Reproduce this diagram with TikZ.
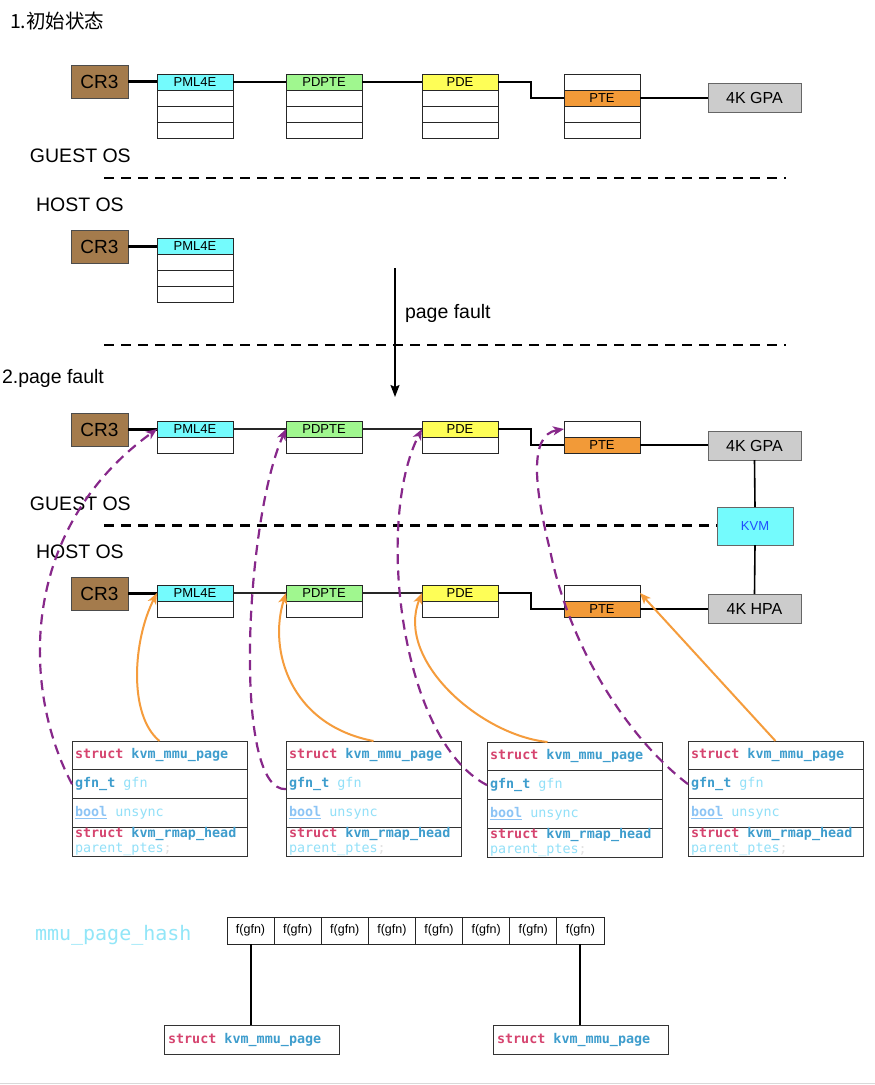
\documentclass[tikz,border=0pt]{standalone}
\usepackage{fontspec}
\setmainfont{Liberation Sans}
\newfontfamily\cjkf{Noto Sans CJK SC}
\newfontfamily\monof{DejaVu Sans Mono}
\usetikzlibrary{arrows.meta}
\definecolor{crbrown}{HTML}{A47B4C}
\definecolor{cyanc}{HTML}{74FBFD}
\definecolor{greenc}{HTML}{A0F78F}
\definecolor{yellowc}{HTML}{FEFE57}
\definecolor{orangec}{HTML}{F29A38}
\definecolor{grayc}{HTML}{CCCCCC}
\definecolor{purplec}{HTML}{87288A}
\definecolor{arrorange}{HTML}{F59C3C}
\definecolor{kwc}{HTML}{D6446F}
\definecolor{typc}{HTML}{3E9DCD}
\definecolor{varc}{HTML}{92E0F8}
\definecolor{boolc}{HTML}{8CC4F5}
\definecolor{semic}{HTML}{E2E2E2}
\definecolor{kvmtext}{HTML}{1F4FFF}
\definecolor{hashc}{HTML}{92E6F8}
\newcommand{\kwd}[1]{\textcolor{kwc}{\bfseries #1}}
\newcommand{\typ}[1]{\textcolor{typc}{\bfseries #1}}
\newcommand{\vname}[1]{\textcolor{varc}{#1}}
\newcommand{\msp}{\hspace*{0.6021em}}
\tikzset{
  x=1pt, y=-1pt,
  every node/.append style={outer sep=0pt},
  cell/.style={draw=black!85, line width=0.8pt, minimum width=76pt, minimum height=16pt,
    inner sep=0pt, anchor=north west, font=\fontsize{13}{13}\selectfont},
  crbox/.style={draw=black!70, line width=0.8pt, fill=crbrown, minimum width=57pt,
    minimum height=33pt, inner sep=0pt, anchor=north west, font=\fontsize{19}{19}\selectfont},
  pabox/.style={draw=black!60, line width=1pt, fill=grayc, minimum width=93pt,
    minimum height=29pt, inner sep=0pt, anchor=north west, font=\fontsize{16}{16}\selectfont},
  kvmbox/.style={draw=black!60, line width=1pt, fill=cyanc, minimum width=76pt,
    minimum height=38pt, inner sep=0pt, anchor=north west, text=kvmtext,
    font=\fontsize{13}{13}\selectfont},
  link/.style={black, line width=1.6pt},
  crlink/.style={black, line width=2.4pt},
  thinlink/.style={black!85, line width=1.2pt},
  sepline/.style={black, line width=2.5pt, dash pattern=on 10pt off 7pt},
  guestarrow/.style={purplec, line width=2.2pt, dash pattern=on 10pt off 6.5pt,
    -{Stealth[length=11pt,width=9pt,inset=3pt]}},
  hostarrow/.style={arrorange, line width=2pt, -{Stealth[length=11pt,width=9pt,inset=3pt]}},
  srow/.style={draw=black!80, line width=0.9pt, minimum width=175pt, text width=169pt,
    minimum height=28.75pt, inner xsep=3pt, inner ysep=0pt, align=left, anchor=north west,
    font=\monof\fontsize{13.4}{16}\selectfont},
  bbox/.style={draw=black!80, line width=0.9pt, minimum width=175pt, text width=167pt,
    minimum height=29pt, inner xsep=4pt, inner ysep=0pt, align=left, anchor=north west,
    font=\monof\fontsize{13.4}{16}\selectfont},
  hcell/.style={draw=black!85, line width=0.9pt, minimum width=47.125pt, minimum height=27pt,
    inner sep=0pt, anchor=north west, font=\fontsize{12.5}{12.5}\selectfont},
  lbl/.style={anchor=base west, inner sep=0pt, font=\fontsize{19.5}{19.5}\selectfont},
  pfarrow/.style={black, line width=1.6pt, -{Stealth[length=12pt,width=9pt,inset=2pt]}},
}
\begin{document}
\begin{tikzpicture}
\useasboundingbox (0,0) rectangle (875,1085);
\fill[white] (0,0) rectangle (875,1085);

% ---------- labels ----------
\node[lbl, font=\cjkf\fontsize{19.5}{19.5}\selectfont] (t1) at (10,28) {1.初始状态};
\node[lbl] (go1) at (30,162) {GUEST OS};
\node[lbl] (ho1) at (36,211) {HOST OS};
\node[lbl] (pf) at (405,318) {page fault};
\node[lbl] (t2) at (2,383) {2.page fault};
\node[lbl] (go2) at (30,510) {GUEST OS};
\node[lbl] (ho2) at (36,558) {HOST OS};

% ---------- section 1 guest ----------
\node[crbox] (cr1) at (71,65) {CR3};
\node[cell, fill=cyanc] (ga1) at (157,74) {PML4E};
\node[cell] (ga2) at (ga1.south west) {};
\node[cell] (ga3) at (ga2.south west) {};
\node[cell] (ga4) at (ga3.south west) {};
\node[cell, fill=greenc] (gb1) at (286,74) {PDPTE};
\node[cell] (gb2) at (gb1.south west) {};
\node[cell] (gb3) at (gb2.south west) {};
\node[cell] (gb4) at (gb3.south west) {};
\node[cell, fill=yellowc] (gc1) at (422,74) {PDE};
\node[cell] (gc2) at (gc1.south west) {};
\node[cell] (gc3) at (gc2.south west) {};
\node[cell] (gc4) at (gc3.south west) {};
\node[cell] (gd1) at (564,74) {};
\node[cell, fill=orangec] (gd2) at (gd1.south west) {PTE};
\node[cell] (gd3) at (gd2.south west) {};
\node[cell] (gd4) at (gd3.south west) {};
\node[pabox] (gpa1) at (708,83) {4K GPA};
\draw[crlink] (cr1.east) -- (cr1.east -| ga1.west);
\draw[link] (ga1.east) -- (gb1.west);
\draw[link] (gb1.east) -- (gc1.west);
\draw[link] (gc1.east) -- ++(33,0) |- (gd2.west);
\draw[link] (gd2.east) -- (gd2.east -| gpa1.west);

% separators section 1
\coordinate (s1a) at (104,178);
\coordinate (s1b) at (786,178);
\draw[sepline] (s1a) -- (s1b);

% ---------- section 1 host ----------
\node[crbox] (cr2) at (71,230) {CR3};
\node[cell, fill=cyanc] (ha1) at (157,238) {PML4E};
\node[cell] (ha2) at (ha1.south west) {};
\node[cell] (ha3) at (ha2.south west) {};
\node[cell] (ha4) at (ha3.south west) {};
\draw[crlink] (cr2.east) -- (cr2.east -| ha1.west);

\coordinate (s2a) at (104,345);
\coordinate (s2b) at (786,345);
\draw[sepline] (s2a) -- (s2b);

\coordinate (pfs) at (395,268);
\coordinate (pfe) at (395,397);
\draw[pfarrow] (pfs) -- (pfe);

% ---------- section 2 guest ----------
\node[crbox] (cr3) at (71,413) {CR3};
\node[cell, fill=cyanc] (Ga1) at (157,421) {PML4E};
\node[cell] (Ga2) at (Ga1.south west) {};
\node[cell, fill=greenc] (Gb1) at (286,421) {PDPTE};
\node[cell] (Gb2) at (Gb1.south west) {};
\node[cell, fill=yellowc] (Gc1) at (422,421) {PDE};
\node[cell] (Gc2) at (Gc1.south west) {};
\node[cell] (Gd1) at (564,421) {};
\node[cell, fill=orangec] (Gd2) at (Gd1.south west) {PTE};
\node[pabox] (gpa2) at (708,431) {4K GPA};
\draw[crlink] (cr3.east) -- (cr3.east -| Ga1.west);
\draw[thinlink] (Ga1.east) -- (Gb1.west);
\draw[thinlink] (Gb1.east) -- (Gc1.west);
\draw[link] (Gc1.east) -- ++(33,0) |- (Gd2.west);
\draw[link] (Gd2.east) -- (Gd2.east -| gpa2.west);

\node[kvmbox] (kvm) at (717,507) {KVM};
\coordinate (s3a) at (104,525.5);
\draw[sepline] (s3a) -- (s3a -| kvm.west);

% ---------- section 2 host ----------
\node[crbox] (cr4) at (71,577) {CR3};
\node[cell, fill=cyanc] (Ha1) at (157,585) {PML4E};
\node[cell] (Ha2) at (Ha1.south west) {};
\node[cell, fill=greenc] (Hb1) at (286,585) {PDPTE};
\node[cell] (Hb2) at (Hb1.south west) {};
\node[cell, fill=yellowc] (Hc1) at (422,585) {PDE};
\node[cell] (Hc2) at (Hc1.south west) {};
\node[cell] (Hd1) at (564,585) {};
\node[cell, fill=orangec] (Hd2) at (Hd1.south west) {PTE};
\node[pabox] (hpa) at (708,594) {4K HPA};
\draw[crlink] (cr4.east) -- (cr4.east -| Ha1.west);
\draw[thinlink] (Ha1.east) -- (Hb1.west);
\draw[thinlink] (Hb1.east) -- (Hc1.west);
\draw[link] (Hc1.east) -- ++(33,0) |- (Hd2.west);
\draw[link] (Hd2.east) -- (Hd2.east -| hpa.west);

\draw[link] (gpa2.south) -- (kvm.north);
\draw[link] (kvm.south) -- (hpa.north);

% ---------- struct boxes ----------
\foreach \nm/\xx/\yy in {sA/72/741, sB/286/741, sC/487/742, sD/688/741}{
  \node[srow] (\nm1) at (\xx,\yy) {\kwd{struct}\msp\typ{kvm\_mmu\_page}};
  \node[srow] (\nm2) at (\nm1.south west) {\typ{gfn\_t}\msp\vname{gfn}};
  \node[srow] (\nm3) at (\nm2.south west) {\textcolor{boolc}{\bfseries\underline{bool}}\msp\vname{unsync}};
  \node[srow] (\nm4) at (\nm3.south west) {\kwd{struct}\msp\typ{kvm\_rmap\_head}\\[-1pt]\vname{parent\_ptes}\textcolor{semic}{;}};
}

% ---------- guest (purple) arrows ----------
\draw[guestarrow] (sA2.west) .. controls (22,690) and (18,530) .. (Ga1.west);
\draw[guestarrow] ([yshift=-5pt]sB2.west) .. controls (232,792) and (245,520) .. (Gb1.west);
\draw[guestarrow] (sC2.west) .. controls (400,740) and (375,520) .. (Gc1.west);
\draw[guestarrow] (sD2.west) .. controls (630,740) and (570,650) .. (550,550)
   .. controls (535,490) and (528,435) .. (Gd1.west);

% ---------- host (orange) arrows ----------
\draw[hostarrow] (sA1.north) .. controls (128,715) and (133,640) .. (Ha1.west);
\draw[hostarrow] (sB1.north) .. controls (290,725) and (268,650) .. (Hb1.west);
\draw[hostarrow] ([xshift=-27pt]sC1.north) .. controls (480,735) and (395,660) .. (Hc1.west);
\draw[hostarrow] (sD1.north) -- (Hd1.east);

% ---------- hash ----------
\node[anchor=base west, inner sep=0pt, text=hashc, font=\monof\fontsize{20}{20}\selectfont] (hashlbl) at (35,940) {mmu\_page\_hash};
\node[hcell] (h1) at (227,917) {f(gfn)};
\node[hcell] (h2) at (h1.north east) {f(gfn)};
\node[hcell] (h3) at (h2.north east) {f(gfn)};
\node[hcell] (h4) at (h3.north east) {f(gfn)};
\node[hcell] (h5) at (h4.north east) {f(gfn)};
\node[hcell] (h6) at (h5.north east) {f(gfn)};
\node[hcell] (h7) at (h6.north east) {f(gfn)};
\node[hcell] (h8) at (h7.north east) {f(gfn)};
\node[bbox] (b1) at (164,1025) {\kwd{struct}\msp\typ{kvm\_mmu\_page}};
\node[bbox] (b2) at (493,1025) {\kwd{struct}\msp\typ{kvm\_mmu\_page}};
\draw[link, line width=2pt] (h1.south) -- (h1.south |- b1.north);
\draw[link, line width=2pt] (h8.south) -- (h8.south |- b2.north);

% bottom edge
\coordinate (e1) at (0,1083.5);
\coordinate (e2) at (875,1083.5);
\draw[black!15, line width=1pt] (e1) -- (e2);
\end{tikzpicture}
\end{document}
